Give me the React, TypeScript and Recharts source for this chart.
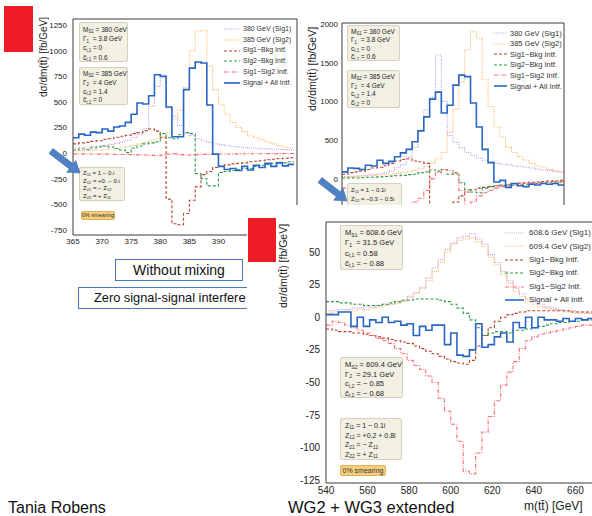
import React from 'react';
import { LineChart, Line, XAxis, YAxis } from 'recharts';

// ---- 380 / 385 GeV benchmark, 1 GeV bins (left panel: no mixing) ----
const binsNarrow = [365, 366, 367, 368, 369, 370, 371, 372, 373, 374, 375, 376, 377, 378, 379, 380, 381, 382, 383, 384, 385, 386, 387, 388, 389, 390, 391, 392, 393, 394, 395, 396, 397, 398, 399, 400, 401, 402];

const sig1Left = [50, 55, 60, 65, 70, 75, 85, 95, 110, 125, 150, 180, 240, 460, 650, 760, 440, 360, 270, 200, 170, 140, 120, 105, 90, 80, 72, 65, 58, 55, 50, 47, 44, 41, 38, 36, 34, 32];
const sig2Left = [20, 22, 25, 27, 30, 35, 40, 45, 55, 65, 75, 90, 105, 120, 140, 160, 200, 330, 420, 640, 1000, 1190, 1200, 850, 620, 470, 380, 300, 250, 210, 170, 150, 130, 110, 90, 75, 60, 50];
const sig1BkgLeft = [90, 100, 105, 115, 120, 135, 140, 155, 165, 175, 190, 200, 220, 235, 215, 150, -450, -690, -700, -590, -460, -330, -210, -180, -140, -130, -115, -105, -100, -95, -85, -80, -75, -65, -60, -55, -50, -45];
const sig2BkgLeft = [30, 40, 35, 50, 60, 70, 60, 45, 30, 5, 50, 70, 90, 100, 110, 190, 150, 140, 180, 200, 190, -200, -250, -320, -320, -190, -180, -170, -160, -150, -150, -130, -120, -110, -100, -90, -95, -85];
const sig1Sig2Left = [-8, -8, -9, -9, -10, -10, -11, -12, -13, -14, -15, -17, -19, -22, -25, -20, -10, -5, -15, -20, -18, -15, -12, -10, -10, -9, -9, -8, -8, -7, -7, -6, -6, -5, -5, -5, -4, -4];
const totalLeft = [150, 185, 175, 205, 200, 235, 215, 255, 265, 300, 380, 490, 480, 560, 765, 750, 450, 160, 160, 620, 830, 890, 880, 470, -10, -130, -160, -150, -170, -130, -165, -120, -140, -100, -130, -95, -125, -110];

// ---- same benchmark with mixing (upper right panel) ----
const sig1Mix = [25, 30, 35, 40, 50, 55, 65, 80, 100, 150, 180, 280, 410, 630, 890, 1050, 1600, 1000, 560, 470, 400, 340, 300, 270, 240, 220, 200, 190, 180, 170, 160, 150, 140, 125, 115, 110, 100, 90];
const sig2Mix = [25, 28, 32, 35, 40, 45, 50, 55, 60, 70, 80, 95, 110, 130, 160, 200, 260, 340, 600, 900, 1250, 1670, 1900, 1820, 1280, 930, 670, 540, 410, 340, 290, 240, 200, 170, 150, 120, 100, 85];
const sig1BkgMix = [60, 80, 90, 100, 120, 140, 150, 170, 200, 230, 250, 260, 230, 220, 200, -400, -500, -600, -450, -300, -220, -170, -140, -120, -110, -100, -90, -80, -70, -60, -55, -50, -45, -40, -35, -30, -25, -20];
const sig2BkgMix = [10, 12, 10, 15, 20, 20, 25, 30, 35, 40, 45, 55, 60, 80, 90, 115, 100, 120, 60, 80, -50, -140, -170, -180, -120, -100, -90, -90, -80, -80, -70, -70, -60, -60, -55, -50, -50, -45];
const sig1Sig2Mix = [-120, -140, -170, -200, -250, -300, -350, -400, -420, -400, -380, -350, -300, -250, -150, 0, 80, 120, 110, 60, -150, -350, -300, -220, -180, -150, -120, -100, -90, -80, -70, -60, -55, -50, -45, -40, -35, -30];
const totalMix = [90, 140, 135, 120, 175, 165, 240, 200, 225, 285, 335, 380, 480, 620, 800, 1030, 1120, 850, 950, 1210, 1340, 1320, 980, 670, 380, 210, -40, -20, -110, -60, -90, -100, -70, -80, -60, -70, -60, -80];

// ---- 608.6 / 609.4 GeV benchmark, 3 GeV bins (lower panel) ----
const binsWide = [540, 543, 546, 549, 552, 555, 558, 561, 564, 567, 570, 573, 576, 579, 582, 585, 588, 591, 594, 597, 600, 603, 606, 609, 612, 615, 618, 621, 624, 627, 630, 633, 636, 639, 642, 645, 648, 651, 654, 657, 660, 663, 666, 669, 672, 675, 678];

const sig1Wide = [5, 5, 6, 6, 7, 7, 8, 8, 9, 10, 10, 11, 13, 16, 19, 23, 30, 38, 44, 52, 57, 61, 62, 64, 60, 56, 48, 42, 35, 28, 22, 18, 14, 12, 10, 8, 7, 6, 5, 5, 4, 4, 3, 3, 3, 3, 2];
const sig2Wide = [3, 4, 4, 5, 5, 6, 6, 7, 8, 9, 10, 11, 12, 15, 18, 22, 28, 35, 42, 50, 56, 59, 60, 61, 58, 54, 46, 40, 33, 26, 20, 16, 12, 10, 8, 7, 6, 5, 4, 4, 3, 3, 3, 2, 2, 2, 2];
const sig1BkgWide = [-9, -10, -11, -11, -12, -12, -13, -14, -15, -16, -17, -18, -19, -20, -22, -24, -26, -28, -30, -32, -34, -35, -36, -33, -22, -14, -8, -3, 0, 2, 3, 4, 5, 5, 5, 5, 5, 5, 5, 4, 4, 4, 4, 3, 3, 3, 3];
const sig2BkgWide = [12, 12, 11, 11, 10, 10, 9, 9, 9, 10, 11, 12, 13, 13, 14, 14, 14, 14, 13, 12, 10, 7, 3, -2, -8, -14, -12, -11, -11, -12, -10, -10, -9, -8, -7, -6, -5, -4, -4, -3, -3, -2, -2, -2, -1, -1, -1];
const sig1Sig2Wide = [-6, -3, -4, -6, -8, -10, -12, -14, -16, -18, -20, -24, -28, -33, -37, -40, -45, -50, -62, -72, -82, -95, -118, -120, -104, -88, -76, -64, -52, -42, -34, -24, -18, -15, -13, -12, -11, -10, -9, -8, -7, -6, -6, -5, -5, -4, -4];
const totalWide = [2, 2, 4, 4, -7, 0, -7, -2, -4, 0, -4, -3, -6, -5, -14, -7, -10, -6, -6, -21, -12, -29, -30, -25, -5, -23, -21, -15, -12, -19, -4, -8, 0, -8, 0, -2, -2, -3, -1, -3, -1, -2, -1, -2, -1, -1, -1];

// ---- ticks (labelled ones, and all major tick marks) ----
const labelsXNarrow = [365, 370, 375, 380, 385, 390];
const ticksXNarrow = [365, 370, 375, 380, 385, 390, 395, 400];
const ticksYLeft = [-750, -500, -250, 0, 250, 500, 750, 1000, 1250];
const ticksYMix = [-500, 0, 500, 1000, 1500, 2000];
const labelsXWide = [540, 560, 580, 600, 620, 640, 660];
const ticksXWide = [540, 560, 580, 600, 620, 640, 660, 680];
const ticksYWide = [-125, -100, -75, -50, -25, 0, 25, 50];

const legendNarrow = ['380 GeV (Sig1)', '385 GeV (Sig2)', 'Sig1\u2212Bkg Intf.', 'Sig2\u2212Bkg Intf.', 'Sig1\u2212Sig2 Intf.', 'Signal + All Intf.'];
const legendWide = ['608.6 GeV (Sig1)', '609.4 GeV (Sig2)', 'Sig1\u2212Bkg Intf.', 'Sig2\u2212Bkg Intf.', 'Sig1\u2212Sig2 Intf.', 'Signal + All Intf.'];

const lineStyles = [
  { key: 'sig1', color: '#c49be4', dash: '1 1.2', width: 1.1 },
  { key: 'sig2', color: '#ffb45e', dash: '1 1.2', width: 1.1 },
  { key: 'sig1Bkg', color: '#b5412b', dash: '3 2', width: 1.1 },
  { key: 'sig2Bkg', color: '#2d9b46', dash: '3 2', width: 1.1 },
  { key: 'sig1Sig2', color: '#ff6a77', dash: '4 1.5 1 1.5', width: 1.1 },
  { key: 'total', color: '#2766c6', dash: undefined as string | undefined, width: 1.6 },
];

const SANS = '"Liberation Sans", Arial, sans-serif';
const FRAME = '#3d3a36';

function steps(a: number, b: number, s: number) {
  const out: number[] = [];
  for (let v = a; v <= b + 1e-9; v += s) out.push(Math.round(v * 100) / 100);
  return out;
}

type HistProps = {
  left: number; top: number; width: number; height: number;
  margin: { top: number; right: number; bottom: number; left: number };
  yWidth: number; xHeight: number;
  edges: number[]; end: number; series: number[][];
  xDomain: [number, number]; yDomain: [number, number];
  xLabels: number[] | null; xTicks: number[]; yTicks: number[]; xMinor: number[]; yMinor: number[];
  font: number; xGap: number; yGap: number;
};

function Hist(p: HistProps) {
  // histogram rows: value of each bin at its low edge, last bin closed at the upper edge
  const rows: any[] = p.edges.map((m, i) => {
    const r: any = { m };
    lineStyles.forEach((s, j) => { r[s.key] = p.series[j][i]; });
    return r;
  });
  const closing: any = { m: p.end };
  lineStyles.forEach((s, j) => { closing[s.key] = p.series[j][p.series[j].length - 1]; });
  rows.push(closing);

  const tickFont = { fontSize: p.font, fill: '#222', fontFamily: SANS };
  const inner = [
    { kind: 'x', o: 'bottom', t: p.xMinor, s: 3, line: false },
    { kind: 'x', o: 'bottom', t: p.xTicks, s: 6, line: false },
    { kind: 'x', o: 'top', t: p.xMinor, s: 3, line: true },
    { kind: 'x', o: 'top', t: p.xTicks, s: 6, line: false },
    { kind: 'y', o: 'left', t: p.yMinor, s: 3, line: false },
    { kind: 'y', o: 'left', t: p.yTicks, s: 6, line: false },
    { kind: 'y', o: 'right', t: p.yMinor, s: 3, line: true },
    { kind: 'y', o: 'right', t: p.yTicks, s: 6, line: false },
  ];

  return (
    <div style={{ position: 'absolute', left: p.left, top: p.top }}>
      <LineChart width={p.width} height={p.height} data={rows} margin={p.margin}>
        <XAxis xAxisId="x" dataKey="m" type="number" domain={p.xDomain} ticks={p.xLabels || p.xTicks} interval={0}
          allowDataOverflow height={p.xHeight} tickSize={0} tickMargin={p.xGap}
          tick={p.xLabels ? tickFont : false} axisLine={{ stroke: FRAME }} />
        <YAxis yAxisId="y" type="number" domain={p.yDomain} ticks={p.yTicks} interval={0}
          allowDataOverflow width={p.yWidth} tickSize={0} tickMargin={p.yGap} tick={tickFont}
          axisLine={{ stroke: FRAME }} />
        {inner.map((a, i) =>
          a.kind === 'x' ? (
            <XAxis key={'i' + i} xAxisId={'ix' + i} type="number" domain={p.xDomain} ticks={a.t} interval={0}
              allowDataOverflow orientation={a.o as any} mirror tick={false} tickSize={a.s}
              tickLine={{ stroke: FRAME }} axisLine={a.line ? { stroke: FRAME } : false} />
          ) : (
            <YAxis key={'i' + i} yAxisId={'iy' + i} type="number" domain={p.yDomain} ticks={a.t} interval={0}
              allowDataOverflow orientation={a.o as any} mirror tick={false} tickSize={a.s}
              tickLine={{ stroke: FRAME }} axisLine={a.line ? { stroke: FRAME } : false} />
          )
        )}
        {lineStyles.map(s => (
          <Line key={s.key} xAxisId="x" yAxisId="y" dataKey={s.key} type="stepAfter" stroke={s.color}
            strokeWidth={s.width} strokeDasharray={s.dash} dot={false} activeDot={false}
            isAnimationActive={false} />
        ))}
      </LineChart>
    </div>
  );
}

const Sub = ({ children }: { children: React.ReactNode }) => (
  <sub style={{ fontSize: '68%', verticalAlign: 'baseline', position: 'relative', top: '0.3em', lineHeight: 0 }}>{children}</sub>
);

function Card({ x, y, w, h, fs, lh, lines, pad = 2 }: any) {
  return (
    <div style={{
      position: 'absolute', left: x, top: y, width: w, height: h, boxSizing: 'border-box',
      background: '#f2efe3', border: '1px solid #d7d0bc', borderRadius: 2,
      padding: `${pad}px 0 0 ${Math.round(fs * 0.5)}px`, fontSize: fs, lineHeight: `${lh}px`,
      color: '#1f1f1f', whiteSpace: 'nowrap', overflow: 'hidden', fontFamily: SANS,
    }}>
      {lines.map((l: React.ReactNode, i: number) => <div key={i}>{l}</div>)}
    </div>
  );
}

function Smear({ x, y, w, h, fs }: any) {
  return (
    <div style={{
      position: 'absolute', left: x, top: y, width: w, height: h, boxSizing: 'border-box',
      background: '#f6cf7c', border: '1px solid #ddb25a', borderRadius: 2, fontSize: fs,
      lineHeight: `${h - 2}px`, textAlign: 'center', color: '#333', fontFamily: SANS, whiteSpace: 'nowrap',
    }}>0% smearing</div>
  );
}

function Key({ x, y, gap, fs, sample, textX, labels }: any) {
  return (
    <>
      {labels.map((lab: string, i: number) => {
        const s = lineStyles[i];
        const cy = y + i * gap;
        return (
          <React.Fragment key={lab}>
            <svg style={{ position: 'absolute', left: x, top: cy - 3 }} width={sample} height={6}>
              <line x1={0} y1={3} x2={sample} y2={3} stroke={s.color} strokeWidth={s.width}
                strokeDasharray={s.dash} />
            </svg>
            <div style={{
              position: 'absolute', left: textX, top: cy - fs * 0.6, fontSize: fs, lineHeight: `${fs * 1.2}px`,
              color: '#333', fontFamily: SANS, whiteSpace: 'nowrap',
            }}>{lab}</div>
          </React.Fragment>
        );
      })}
    </>
  );
}

function AxisTitle({ cx, y0, y1, fs, children }: any) {
  return (
    <div style={{
      position: 'absolute', left: cx - fs * 0.6, top: y0, height: y1 - y0, width: fs * 1.2,
      writingMode: 'vertical-rl', transform: 'rotate(180deg)', textAlign: 'center', fontSize: fs,
      lineHeight: `${fs * 1.2}px`, fontFamily: SANS, color: '#222', whiteSpace: 'nowrap',
    }}>{children}</div>
  );
}

function Arrow({ x1, y1, x2, y2 }: any) {
  const dx = x2 - x1, dy = y2 - y1, L = Math.hypot(dx, dy);
  const ux = dx / L, uy = dy / L, nx = -uy, ny = ux;
  const hl = 11, hw = 7.5, sw = 3.2;
  const bx = x2 - ux * hl, by = y2 - uy * hl;
  const pts = [
    [x1 + nx * sw, y1 + ny * sw], [bx + nx * sw, by + ny * sw], [bx + nx * hw, by + ny * hw], [x2, y2],
    [bx - nx * hw, by - ny * hw], [bx - nx * sw, by - ny * sw], [x1 - nx * sw, y1 - ny * sw],
  ];
  const xs = pts.map(q => q[0]), ys = pts.map(q => q[1]);
  const ox = Math.floor(Math.min(...xs)) - 1, oy = Math.floor(Math.min(...ys)) - 1;
  const w = Math.ceil(Math.max(...xs)) - ox + 2, h = Math.ceil(Math.max(...ys)) - oy + 2;
  return (
    <svg style={{ position: 'absolute', left: ox, top: oy }} width={w} height={h}>
      <polygon points={pts.map(q => `${q[0] - ox},${q[1] - oy}`).join(' ')} fill="#4f81c4" stroke="#3b6aa6" strokeWidth={0.6} />
    </svg>
  );
}

const Red = ({ x, y, w, h }: any) => (
  <div style={{ position: 'absolute', left: x, top: y, width: w, height: h, background: '#ee1c25' }} />
);

const title = <>d&sigma;/dm(tt&#772;) [fb/GeV]</>;

const boxS1Narrow = [
  <>M<Sub>S1</Sub> = 380 GeV</>, <>&Gamma;<Sub>1</Sub> &nbsp;= 3.8 GeV</>, <>c<Sub>t,1</Sub> = 0</>, <>c&#771;<Sub>t,1</Sub> = 0.6</>,
];
const boxS2Narrow = [
  <>M<Sub>S2</Sub> = 385 GeV</>, <>&Gamma;<Sub>2</Sub> &nbsp;= 4 GeV</>, <>c<Sub>t,2</Sub> = 1.4</>, <>c&#771;<Sub>t,2</Sub> = 0</>,
];

export default function App() {
  return (
    <div style={{ position: 'absolute', left: 0, top: 0, width: 592, height: 516, overflow: 'hidden', background: '#fff', fontFamily: SANS }}>
      {/* left panel: without mixing */}
      <Hist left={0} top={0} width={300} height={260} margin={{ top: 19, right: 3, bottom: 0, left: 0 }}
        yWidth={73} xHeight={25} edges={binsNarrow} end={403}
        series={[sig1Left, sig2Left, sig1BkgLeft, sig2BkgLeft, sig1Sig2Left, totalLeft]}
        xDomain={[365, 403.5]} yDomain={[-800, 1310]} xLabels={labelsXNarrow} xTicks={ticksXNarrow} yTicks={ticksYLeft}
        xMinor={steps(365, 403, 1)} yMinor={steps(-800, 1300, 50)} font={8} xGap={3} yGap={6} />
      <Red x={4} y={6} w={29} h={46} />
      <AxisTitle cx={44} y0={15} y1={98} fs={10}>{title}</AxisTitle>
      <Card x={79} y={22} w={49} h={40} fs={6.5} lh={9.2} lines={boxS1Narrow} />
      <Card x={79} y={67} w={49} h={38} fs={6.5} lh={8.8} lines={boxS2Narrow} />
      <Card x={79} y={167} w={46} h={34} fs={6} lh={7.6} lines={[
        <>Z<Sub>11</Sub> = 1 &minus; 0.i</>, <>Z<Sub>12</Sub> = +0. &minus; 0.i</>,
        <>Z<Sub>21</Sub> = &minus; Z<Sub>12</Sub></>, <>Z<Sub>22</Sub> = + Z<Sub>11</Sub></>,
      ]} />
      <Smear x={81} y={211} w={34} h={9} fs={5.5} />
      <Key x={224} y={29} gap={10.8} fs={7} sample={16} textX={243} labels={legendNarrow} />
      <Arrow x1={51} y1={151} x2={80} y2={173} />

      {/* upper right panel: with mixing */}
      <Hist left={300} top={0} width={270} height={266} margin={{ top: 23, right: 6, bottom: 0, left: 0 }}
        yWidth={42} xHeight={26} edges={binsNarrow} end={403}
        series={[sig1Mix, sig2Mix, sig1BkgMix, sig2BkgMix, sig1Sig2Mix, totalMix]}
        xDomain={[365, 403]} yDomain={[-790, 2013]} xLabels={null} xTicks={ticksXNarrow} yTicks={ticksYMix}
        xMinor={steps(365, 403, 1)} yMinor={steps(-700, 2000, 100)} font={8} xGap={3} yGap={4} />
      <AxisTitle cx={312} y0={24} y1={114} fs={10.5}>{title}</AxisTitle>
      <Card x={347} y={25} w={53} h={36} fs={6.5} lh={8.4} lines={boxS1Narrow} />
      <Card x={347} y={70} w={53} h={38} fs={6.5} lh={8.6} lines={boxS2Narrow} />
      <Card x={347} y={183} w={55} h={30} fs={6} lh={8.6} lines={[
        <>Z<Sub>11</Sub> = 1 &minus; 0.1i</>, <>Z<Sub>12</Sub> = &minus;0.3 &minus; 0.5i</>,
        <>Z<Sub>21</Sub> = &minus; Z<Sub>12</Sub></>,
      ]} />
      <Key x={494} y={33} gap={10.6} fs={7.5} sample={13} textX={510} labels={legendNarrow} />
      <Arrow x1={320} y1={180} x2={347} y2={201} />

      {/* slide captions */}
      <div style={{ position: 'absolute', left: 115, top: 259, width: 128, height: 22, boxSizing: 'border-box', border: '1px solid #4a78c0', fontSize: 14, lineHeight: '20px', textAlign: 'center', color: '#111' }}>Without mixing</div>
      <div style={{ position: 'absolute', left: 78, top: 287, width: 169, height: 22, boxSizing: 'border-box', borderTop: '1px solid #4a78c0', borderBottom: '1px solid #4a78c0', borderLeft: '1px solid #4a78c0' }} />
      <div style={{ position: 'absolute', left: 94, top: 289, fontSize: 12.8, lineHeight: '18px', color: '#111', whiteSpace: 'nowrap' }}>Zero signal-signal interfere</div>

      {/* lower panel: 608.6 / 609.4 GeV */}
      <div style={{ position: 'absolute', left: 247, top: 205, width: 345, height: 311, background: '#fff' }} />
      <Hist left={247} top={205} width={373} height={298} margin={{ top: 17, right: 3, bottom: 0, left: 0 }}
        yWidth={79} xHeight={20} edges={binsWide} end={681}
        series={[sig1Wide, sig2Wide, sig1BkgWide, sig2BkgWide, sig1Sig2Wide, totalWide]}
        xDomain={[540, 680]} yDomain={[-127, 73]} xLabels={labelsXWide} xTicks={ticksXWide} yTicks={ticksYWide}
        xMinor={steps(540, 680, 5)} yMinor={steps(-125, 70, 5)} font={10} xGap={4} yGap={6} />
      <Red x={248} y={218} w={28} h={44} />
      <AxisTitle cx={283} y0={221} y1={310} fs={10.5}>{title}</AxisTitle>
      <Card x={340} y={225} w={63} h={45} fs={7.5} lh={10.3} lines={[
        <>M<Sub>S1</Sub> = 608.6 GeV</>, <>&Gamma;<Sub>1</Sub> &nbsp;= 31.5 GeV</>,
        <>c<Sub>t,1</Sub> = 0.58</>, <>c&#771;<Sub>t,1</Sub> = &minus; 0.88</>,
      ]} />
      <Card x={340} y={357} w={63} h={41} fs={7.5} lh={9.6} lines={[
        <>M<Sub>S2</Sub> = 609.4 GeV</>, <>&Gamma;<Sub>2</Sub> &nbsp;= 29.1 GeV</>,
        <>c<Sub>t,2</Sub> = &minus; 0.85</>, <>c&#771;<Sub>t,2</Sub> = &minus; 0.68</>,
      ]} />
      <Card x={340} y={418} w={62} h={42} fs={7} lh={9.6} lines={[
        <>Z<Sub>11</Sub> = 1 &minus; 0.1i</>, <>Z<Sub>12</Sub> = +0.2 + 0.8i</>,
        <>Z<Sub>21</Sub> = &minus; Z<Sub>12</Sub></>, <>Z<Sub>22</Sub> = + Z<Sub>11</Sub></>,
      ]} />
      <Smear x={340} y={465} w={46} h={11} fs={7} />
      <Key x={505} y={233} gap={13.4} fs={8} sample={19} textX={529} labels={legendWide} />
      <div style={{ position: 'absolute', left: 524, top: 499, fontSize: 12, lineHeight: '14px', color: '#222', whiteSpace: 'nowrap' }}>m(tt&#772;) [GeV]</div>

      {/* footer */}
      <div style={{ position: 'absolute', left: 8, top: 500, fontSize: 16, lineHeight: '16px', color: '#111', whiteSpace: 'nowrap' }}>Tania Robens</div>
      <div style={{ position: 'absolute', left: 288, top: 499, fontSize: 16.5, lineHeight: '16px', color: '#111', whiteSpace: 'nowrap' }}>WG2 + WG3 extended</div>
    </div>
  );
}
